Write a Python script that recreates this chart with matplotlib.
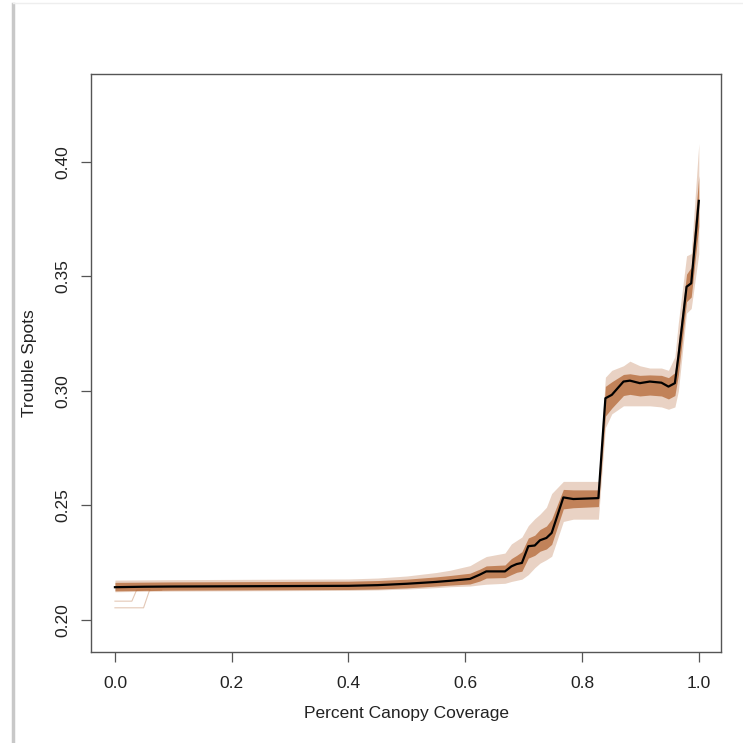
import numpy as np
import matplotlib
matplotlib.use("Agg")
import matplotlib.pyplot as plt
from matplotlib.lines import Line2D

plt.rcParams["font.family"] = ["Liberation Sans", "DejaVu Sans"]

# partial dependence of trouble spots on canopy cover
canopy = [0.000, 0.050, 0.100, 0.200, 0.300, 0.400, 0.450, 0.500, 0.550, 0.574,
          0.608, 0.625, 0.636, 0.668, 0.679, 0.688, 0.697, 0.708, 0.719, 0.728,
          0.739, 0.748, 0.768, 0.785, 0.828, 0.840, 0.851, 0.871, 0.882, 0.899,
          0.916, 0.936, 0.948, 0.959, 0.965, 0.979, 0.987, 1.000]
mean_pd = [0.2143, 0.2145, 0.2146, 0.2147, 0.2148, 0.2149, 0.2152, 0.2158, 0.2166, 0.2171,
           0.2179, 0.2198, 0.2212, 0.2212, 0.2234, 0.2244, 0.2249, 0.2322, 0.2325, 0.2348,
           0.2358, 0.2380, 0.2535, 0.2528, 0.2532, 0.2968, 0.2983, 0.3041, 0.3045, 0.3034,
           0.3041, 0.3036, 0.3019, 0.3034, 0.3150, 0.3455, 0.3470, 0.3830]
# dense core of the bootstrap curves
core_hi = [0.2164, 0.2165, 0.2166, 0.2167, 0.2168, 0.2169, 0.2172, 0.2178, 0.2188, 0.2194,
           0.2204, 0.2222, 0.2236, 0.2240, 0.2268, 0.2282, 0.2298, 0.2358, 0.2370, 0.2395,
           0.2410, 0.2440, 0.2570, 0.2568, 0.2568, 0.3020, 0.3040, 0.3072, 0.3075, 0.3068,
           0.3070, 0.3068, 0.3058, 0.3080, 0.3210, 0.3510, 0.3540, 0.3940]
core_lo = [0.2127, 0.2129, 0.2130, 0.2131, 0.2132, 0.2133, 0.2135, 0.2140, 0.2148, 0.2152,
           0.2157, 0.2170, 0.2183, 0.2185, 0.2198, 0.2208, 0.2213, 0.2270, 0.2282, 0.2300,
           0.2310, 0.2330, 0.2485, 0.2490, 0.2495, 0.2890, 0.2925, 0.2980, 0.2985, 0.2978,
           0.2982, 0.2978, 0.2965, 0.2980, 0.3070, 0.3390, 0.3410, 0.3720]
# full spread of the bootstrap curves
all_hi = [0.2174, 0.2175, 0.2176, 0.2177, 0.2178, 0.2179, 0.2183, 0.2192, 0.2207, 0.2217,
          0.2237, 0.2262, 0.2277, 0.2292, 0.2332, 0.2347, 0.2362, 0.2412, 0.2442, 0.2462,
          0.2492, 0.2552, 0.2605, 0.2605, 0.2605, 0.3060, 0.3090, 0.3110, 0.3130, 0.3110,
          0.3100, 0.3100, 0.3090, 0.3150, 0.3300, 0.3590, 0.3600, 0.4080]
all_lo = [0.2123, 0.2125, 0.2126, 0.2127, 0.2128, 0.2129, 0.2131, 0.2135, 0.2141, 0.2145,
          0.2148, 0.2153, 0.2156, 0.2160, 0.2168, 0.2173, 0.2178, 0.2198, 0.2228, 0.2248,
          0.2263, 0.2278, 0.2430, 0.2440, 0.2440, 0.2840, 0.2900, 0.2935, 0.2935, 0.2935,
          0.2935, 0.2930, 0.2920, 0.2930, 0.3000, 0.3340, 0.3360, 0.3600]
# two stray bootstrap curves that start low
stray1_x = [0.000, 0.029, 0.037, 0.060]
stray1_y = [0.2082, 0.2082, 0.2130, 0.2132]
stray2_x = [0.000, 0.049, 0.059, 0.080]
stray2_y = [0.2053, 0.2053, 0.2128, 0.2130]

xticks = [0.0, 0.2, 0.4, 0.6, 0.8, 1.0]
yticks = [0.20, 0.25, 0.30, 0.35, 0.40]

boot_col = "#B0602C"

fig = plt.figure(figsize=(7.43, 7.43), dpi=100)
ax = fig.add_axes([91 / 743, 1 - 652 / 743, 630 / 743, 578 / 743])

ax.fill_between(canopy, all_lo, all_hi, color=boot_col, alpha=0.28, lw=0)
ax.fill_between(canopy, core_lo, core_hi, color=boot_col, alpha=0.7, lw=0)
for sx, sy in [(stray1_x, stray1_y), (stray2_x, stray2_y)]:
    ax.plot(sx, sy, color=boot_col, alpha=0.35, lw=0.8)
ax.plot(canopy, mean_pd, color="black", lw=1.6)

ax.set_xlim(-0.041, 1.038)
ax.set_ylim(0.186, 0.4384)
ax.set_xticks(xticks)
ax.set_xticklabels([f"{t:.1f}" for t in xticks])
ax.set_yticks(yticks)
ax.set_yticklabels([f"{t:.2f}" for t in yticks])
ax.tick_params(axis="both", direction="out", length=7, width=0.9, color="#555555",
               labelsize=12.5, labelcolor="#222222")
ax.tick_params(axis="x", pad=10)
ax.tick_params(axis="y", pad=8)
for lab in ax.get_yticklabels():
    lab.set_rotation(90)
    lab.set_verticalalignment("center")
for sp in ax.spines.values():
    sp.set_color("#555555")
    sp.set_linewidth(1.0)

ax.set_xlabel("Percent Canopy Coverage", fontsize=12.5, color="#222222")
ax.set_ylabel("Trouble Spots", fontsize=12.5, color="#222222")
ax.xaxis.set_label_coords(0.5, -0.094)
ax.yaxis.set_label_coords(-0.086, 0.5)

# screenshot frame edge on the left and top
fig.add_artist(Line2D([13 / 743, 13 / 743], [0, 1 - 4 / 743], transform=fig.transFigure,
                      color="#c8c8c8", lw=2.5))
fig.add_artist(Line2D([13 / 743, 1], [1 - 3 / 743, 1 - 3 / 743], transform=fig.transFigure,
                      color="#eeeeee", lw=1))

fig.savefig("out.png", dpi=100)
plt.close(fig)
